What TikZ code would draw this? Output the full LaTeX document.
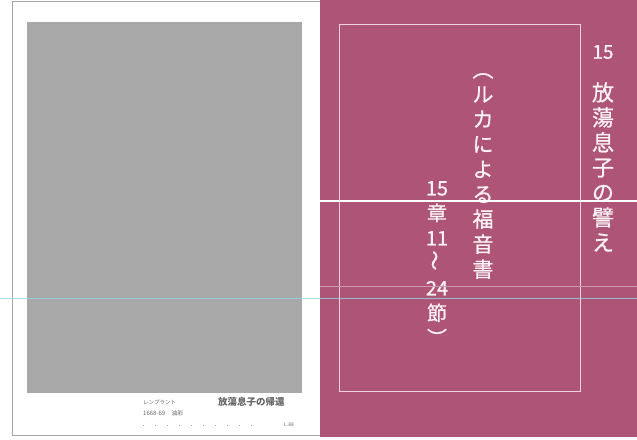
\documentclass[tikz,border=0pt]{standalone}
\usepackage{fontspec}
\newfontfamily\jpfont{Noto Sans CJK JP}
\newfontfamily\jpmid{Noto Sans CJK JP}[FakeBold=0.8]
\usetikzlibrary{positioning}

\definecolor{cover}{RGB}{174,84,118}
\definecolor{plate}{RGB}{168,168,168}
\definecolor{scanline}{RGB}{150,215,222}

\tikzset{
  tate/.style={text=white!92!cover, align=center, inner sep=0pt, anchor=north},
  caption/.style={text=black!60, inner sep=0pt, anchor=west, font=\jpfont\fontsize{6}{7}\selectfont}
}

\begin{document}
\begin{tikzpicture}[x=1pt, y=-1pt]
  \useasboundingbox (0,0) rectangle (637,439);
  % left page with the picture plate
  \fill[white] (0,0) rectangle (320,439);
  \draw[black!35, line width=1pt] (12,1) rectangle (320,435);
  \fill[plate] (27,22) rectangle (302,393);
  % right page
  \fill[cover] (320,0) rectangle (637,437);
  \draw[white!75!cover, line width=0.8pt] (339,24) rectangle (580,391);

  % vertical titles
  \node[tate, font=\jpmid\fontsize{19}{24}\selectfont] (num) at (603,45) {15};
  \node[tate, font=\jpmid\fontsize{22}{25}\selectfont] (title) at (603,82)
    {放\\蕩\\息\\子\\の\\譬\\え};
  \node[tate, font=\jpmid\fontsize{21}{25}\selectfont] (gospel) at (483,73)
    {︵\\ル\\カ\\に\\よ\\る\\福\\音\\書};
  \node[tate, font=\jpmid\fontsize{20}{25}\selectfont] (verse) at (437,181)
    {15\\章\\11\\\rotatebox{90}{〜}\\24\\節\\︶};

  % caption under the plate
  \node[caption, font=\jpfont\fontsize{5.5}{6}\selectfont] (artist) at (143,402) {レンブラント};
  \node[caption, font=\jpfont\bfseries\fontsize{9.5}{10}\selectfont] (work) at (218,402) {放蕩息子の帰還};
  \node[caption] (year) at (143,413) {1668-69　油彩};
  \coordinate (lead) at (143,425);
  \node[caption, font=\jpfont\fontsize{5}{6}\selectfont] (page) at (284,425) {L.88};
  \draw[black!35, line width=1pt, dash pattern=on 1pt off 11pt] (lead) -- ([xshift=-24pt]page.west);

  % scan marks
  \draw[white, line width=1.2pt] (320,201) -- (637,201);
  \draw[white!40!cover, line width=0.6pt] (320,286) -- (637,286);
  \draw[scanline, line width=0.7pt, opacity=0.8] (0,298) -- (637,298);
\end{tikzpicture}
\end{document}
